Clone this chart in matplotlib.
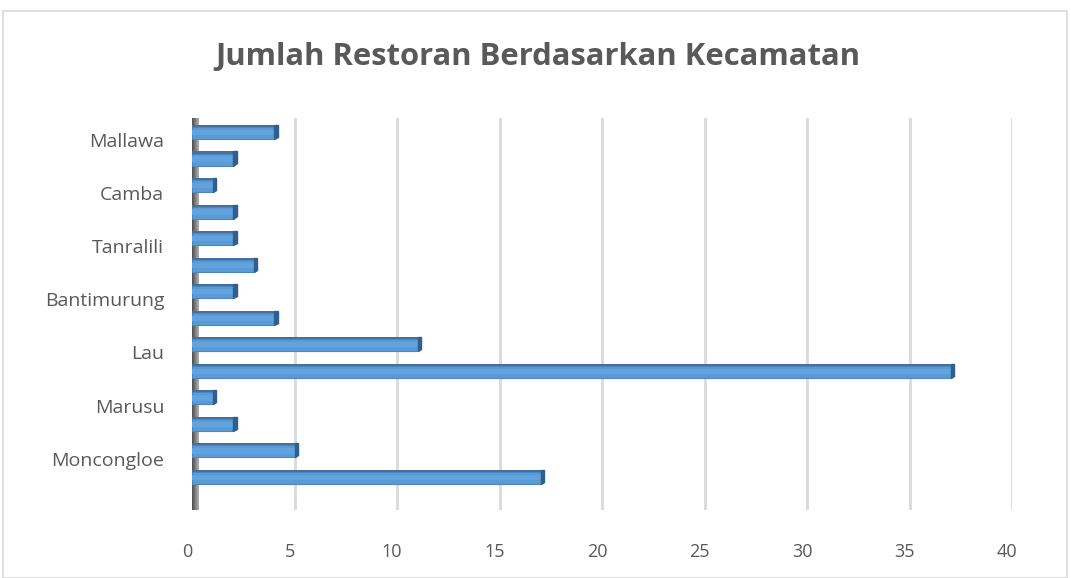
import matplotlib.pyplot as plt
import matplotlib.patches as mpatches
import matplotlib.transforms as mtransforms
import numpy as np

# kecamatan di Kab. Maros, urut dari bawah ke atas (seperti Excel)
kecamatan = ['Mandai', 'Moncongloe', 'Maros Baru', 'Marusu', 'Turikale', 'Lau',
             'Bontoa', 'Bantimurung', 'Simbang', 'Tanralili', 'Tompobulu',
             'Camba', 'Cenrana', 'Mallawa']
jumlah = [17, 5, 2, 1, 37, 11, 4, 2, 3, 2, 2, 1, 2, 4]
x_ticks = [0, 5, 10, 15, 20, 25, 30, 35, 40]

txt_color = '#595959'
bar_color = '#5B9BD5'

fig = plt.figure(figsize=(10.71, 5.78), dpi=100)
# bingkai chart
fig.patches.append(mpatches.Rectangle((3 / 1071, 0), 1064 / 1071, 567 / 578,
                                      transform=fig.transFigure, fill=False,
                                      edgecolor='#D9D9D9', linewidth=1.2))

ax = fig.add_axes([192 / 1071, 68 / 578, 820 / 1071, 392 / 578])
pos = np.arange(len(kecamatan))

# grid vertikal
for t in x_ticks:
    ax.axvline(t, color='#D9D9D9', linewidth=2, zorder=0)

h = 0.45
ax.barh(pos, jumlah, height=h, color=bar_color, edgecolor='#4F86BE',
        linewidth=0.8, zorder=3)
# highlight tipis di tengah
ax.barh(pos + 0.02, jumlah, height=0.2, color='#62A2DE', linewidth=0, zorder=3)
# sisi atas bar (efek 3D)
ax.barh(pos + h / 2 + 0.04, jumlah, height=0.08, color='#41719C',
        linewidth=0, zorder=3)
# sisi kanan bar
for p, v in zip(pos, jumlah):
    ax.add_patch(mpatches.Polygon([(v, p - h / 2), (v, p + h / 2 + 0.08),
                                   (v + 0.18, p + h / 2 + 0.08), (v + 0.18, p - h / 2 + 0.08)],
                                  closed=True, color='#2F5F8F', zorder=3))

# dinding kiri
grad = np.linspace(0.3, 0.7, 50).reshape(1, -1)
ax.imshow(grad, cmap='gray', aspect='auto', extent=(0, 0.3, -1.45, 13.55),
          zorder=2, vmin=0, vmax=1)

ax.set_xlim(0, 40)
ax.set_ylim(-1.206, 13.565)
ax.set_xticks(x_ticks)
ax.set_xticklabels([str(t) for t in x_ticks])

# label hanya tiap kategori kedua (auto-skip Excel)
shown = pos[1::2]
ax.set_yticks(shown - 0.27)
ax.set_yticklabels([kecamatan[i] for i in shown])

ax.tick_params(axis='x', length=0, pad=24, labelsize=13, labelcolor=txt_color)
ax.tick_params(axis='y', length=0, pad=20, labelsize=14, labelcolor=txt_color)
shift = mtransforms.ScaledTranslation(-5 / 100, 0, fig.dpi_scale_trans)
for lab in ax.get_xticklabels():
    lab.set_fontfamily('Open Sans')
    lab.set_transform(lab.get_transform() + shift)
for lab in ax.get_yticklabels():
    lab.set_fontfamily('Open Sans')
for s in ax.spines.values():
    s.set_visible(False)

fig.text(538 / 1071, 1 - 57 / 578, 'Jumlah Restoran Berdasarkan Kecamatan',
         ha='center', va='center', fontsize=22.3, fontweight='bold',
         color=txt_color, family='Open Sans')

fig.savefig('out.png', dpi=100)
